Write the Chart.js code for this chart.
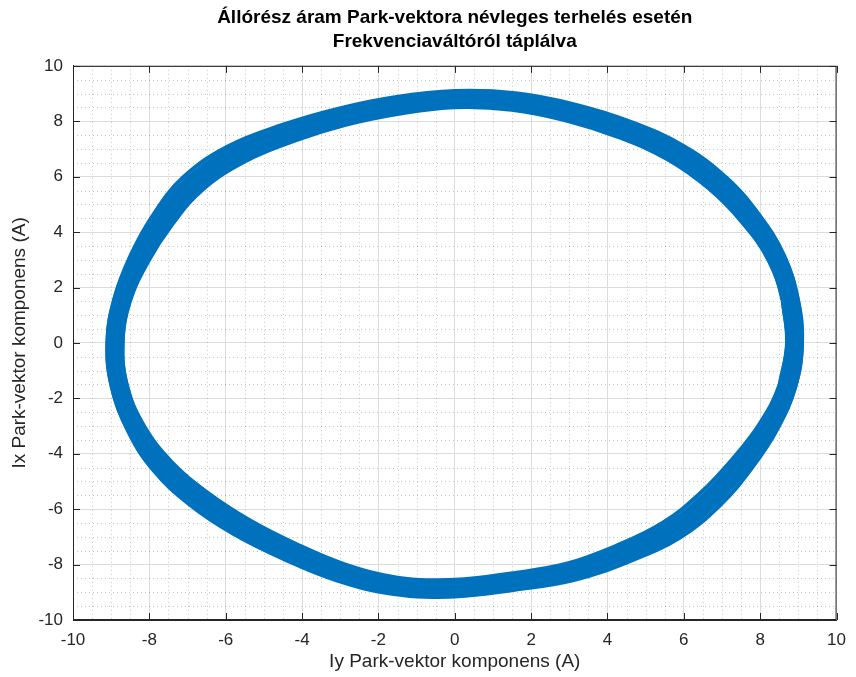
<!DOCTYPE html>
<html>
<head>
<meta charset="utf-8">
<script src="https://cdn.jsdelivr.net/npm/chart.js@4.4.1/dist/chart.umd.min.js"></script>
<style>
  body { margin: 0; background: #fff; }
</style>
</head>
<body>
<canvas id="parkChart" width="856" height="677"></canvas>
<script>
/* ~~~~~~~~~~ DATA ~~~~~~~~~~*/

// tick labels for both axes
const tickValues = [-10, -8, -6, -4, -2, 0, 2, 4, 6, 8, 10];

// middle of the thick band (Iy -> x axis, Ix -> y axis), counter-clockwise,
// the first and last two points overlap so the loop closes without a kink
const centerIy = [8.72, 8.90, 8.79, 8.42, 7.76, 6.88, 5.77, 4.45, 3.03, 1.54, 0.00, -1.51, -2.97, -4.38, -5.72, -6.86, -7.66, -8.27, -8.72,
                  -8.90, -8.79, -8.37, -7.66, -6.70, -5.58, -4.34, -3.01, -1.55, 0.00, 1.52, 3.01, 4.39, 5.67, 6.70, 7.53, 8.23, 8.72, 8.90, 8.79];
const centerIx = [-1.54, 0.00, 1.55, 3.06, 4.48, 5.77, 6.88, 7.71, 8.32, 8.72, 8.80, 8.57, 8.16, 7.58, 6.82, 5.75, 4.43, 3.01, 1.54,
                  0.00, -1.55, -3.04, -4.43, -5.63, -6.65, -7.52, -8.27, -8.77, -8.85, -8.62, -8.27, -7.60, -6.76, -5.63, -4.35, -2.99, -1.54, 0.00, 1.55];

// outer edge of the band
const outerIy = [8.92, 9.09, 8.98, 8.63, 7.98, 7.11, 5.98, 4.61, 3.13, 1.59, 0.00, -1.57, -3.07, -4.54, -5.95, -7.12, -7.92, -8.51, -8.92,
                 -9.10, -8.98, -8.58, -7.91, -6.95, -5.79, -4.50, -3.12, -1.60, 0.00, 1.57, 3.12, 4.56, 5.90, 6.96, 7.79, 8.46, 8.92, 9.09, 8.98];
const outerIx = [-1.58, 0.00, 1.59, 3.14, 4.61, 5.97, 7.12, 7.98, 8.61, 9.01, 9.09, 8.87, 8.45, 7.86, 7.09, 5.97, 4.58, 3.10, 1.58,
                 0.00, -1.59, -3.12, -4.57, -5.83, -6.90, -7.79, -8.56, -9.06, -9.15, -8.91, -8.56, -7.89, -7.02, -5.84, -4.50, -3.08, -1.58, 0.00, 1.59];

// inner edge of the band
const innerIy = [8.51, 8.71, 8.59, 8.22, 7.53, 6.65, 5.57, 4.29, 2.92, 1.49, 0.00, -1.46, -2.86, -4.21, -5.50, -6.60, -7.40, -8.04, -8.51,
                 -8.70, -8.59, -8.15, -7.42, -6.46, -5.37, -4.18, -2.90, -1.50, 0.00, 1.47, 2.90, 4.23, 5.45, 6.44, 7.27, 7.99, 8.51, 8.71, 8.59];
const innerIx = [-1.50, 0.00, 1.52, 2.99, 4.35, 5.58, 6.63, 7.43, 8.03, 8.42, 8.51, 8.27, 7.87, 7.29, 6.55, 5.54, 4.28, 2.92, 1.50,
                 0.00, -1.52, -2.97, -4.29, -5.42, -6.40, -7.24, -7.98, -8.47, -8.55, -8.32, -7.98, -7.32, -6.49, -5.41, -4.20, -2.91, -1.50, 0.00, 1.52];

const toPoints = (xs, ys) => xs.map((x, i) => ({ x: x, y: ys[i] }));

/* ~~~~~~~~~~ STYLE ~~~~~~~~~~*/

const FONT = 'Liberation Sans, Arial, Helvetica, sans-serif';
const LINE_BLUE = '#0072BD';
const AXIS_COLOR = '#262626';

// minor dotted grid, box on top/right, ticks pointing inward (matlab look)
const matlabAxes = {
  id: 'matlabAxes',
  beforeDatasetsDraw(chart) {
    const { ctx, chartArea, scales } = chart;
    const { left, right, top, bottom } = chartArea;
    ctx.save();
    ctx.strokeStyle = 'rgba(0,0,0,0.22)';
    ctx.lineWidth = 1;
    ctx.setLineDash([1, 3]);
    for (let v = -10; v <= 10; v += 0.5) {
      if (v % 2 === 0) continue;
      const px = Math.round(scales.x.getPixelForValue(v)) + 0.5;
      ctx.beginPath();
      ctx.moveTo(px, top);
      ctx.lineTo(px, bottom);
      ctx.stroke();
      const py = Math.round(scales.y.getPixelForValue(v)) + 0.5;
      ctx.beginPath();
      ctx.moveTo(left, py);
      ctx.lineTo(right, py);
      ctx.stroke();
    }
    ctx.restore();
  },
  afterDatasetsDraw(chart) {
    const { ctx, chartArea, scales } = chart;
    const { left, right, top, bottom } = chartArea;
    const len = 7;
    ctx.save();
    ctx.strokeStyle = AXIS_COLOR;
    ctx.lineWidth = 1;
    ctx.setLineDash([]);
    ctx.strokeRect(left + 0.5, top + 0.5, right - left - 1, bottom - top - 1);
    tickValues.forEach((v) => {
      const px = Math.round(scales.x.getPixelForValue(v)) + 0.5;
      ctx.beginPath();
      ctx.moveTo(px, bottom);
      ctx.lineTo(px, bottom - len);
      ctx.moveTo(px, top);
      ctx.lineTo(px, top + len);
      ctx.stroke();
      const py = Math.round(scales.y.getPixelForValue(v)) + 0.5;
      ctx.beginPath();
      ctx.moveTo(left, py);
      ctx.lineTo(left + len, py);
      ctx.moveTo(right, py);
      ctx.lineTo(right - len, py);
      ctx.stroke();
    });
    ctx.restore();
  }
};

const whiteBg = {
  id: 'whiteBg',
  beforeDraw(chart) {
    const { ctx } = chart;
    ctx.save();
    ctx.fillStyle = '#ffffff';
    ctx.fillRect(0, 0, chart.width, chart.height);
    ctx.restore();
  }
};

const bandLine = (points, width) => ({
  data: points,
  showLine: true,
  borderColor: LINE_BLUE,
  backgroundColor: LINE_BLUE,
  borderWidth: width,
  pointRadius: 0,
  tension: 0.4,
  borderJoinStyle: 'round',
  borderCapStyle: 'round',
  fill: false
});

/* ~~~~~~~~~~ CHART ~~~~~~~~~~*/

const ctx = document.getElementById('parkChart').getContext('2d');

new Chart(ctx, {
  type: 'scatter',
  data: {
    datasets: [
      bandLine(toPoints(centerIy, centerIx), 19),
      bandLine(toPoints(outerIy, outerIx), 4),
      bandLine(toPoints(innerIy, innerIx), 4)
    ]
  },
  options: {
    responsive: false,
    animation: false,
    layout: { padding: { top: 6, right: 13, bottom: 0, left: 0 } },
    plugins: {
      legend: { display: false },
      tooltip: { enabled: false },
      title: {
        display: true,
        fullSize: false,
        text: ['Állórész áram Park-vektora névleges terhelés esetén', 'Frekvenciaváltóról táplálva'],
        color: '#000',
        font: { family: FONT, size: 19, weight: 'bold', lineHeight: 1.26 },
        padding: { top: 0, bottom: 12 }
      }
    },
    scales: {
      x: {
        type: 'linear',
        min: -10,
        max: 10,
        afterBuildTicks: (scale) => { scale.ticks = tickValues.map((v) => ({ value: v })); },
        afterFit: (scale) => { scale.height = 57; },
        ticks: { color: AXIS_COLOR, padding: 10, maxRotation: 0, font: { family: FONT, size: 17 } },
        grid: { color: '#dcdcdc', drawTicks: false },
        border: { display: true, color: AXIS_COLOR },
        title: {
          display: true,
          text: 'Iy Park-vektor komponens (A)',
          color: AXIS_COLOR,
          font: { family: FONT, size: 19 },
          padding: { top: 0, bottom: 4 }
        }
      },
      y: {
        type: 'linear',
        min: -10,
        max: 10,
        afterBuildTicks: (scale) => { scale.ticks = tickValues.map((v) => ({ value: v })); },
        afterFit: (scale) => { scale.width = 73; },
        ticks: { color: AXIS_COLOR, padding: 10, font: { family: FONT, size: 17 } },
        grid: { color: '#dcdcdc', drawTicks: false },
        border: { display: true, color: AXIS_COLOR },
        title: {
          display: true,
          text: 'Ix Park-vektor komponens (A)',
          color: AXIS_COLOR,
          font: { family: FONT, size: 19 },
          padding: { top: 8, bottom: 0 }
        }
      }
    }
  },
  plugins: [whiteBg, matlabAxes]
});
</script>
</body>
</html>
